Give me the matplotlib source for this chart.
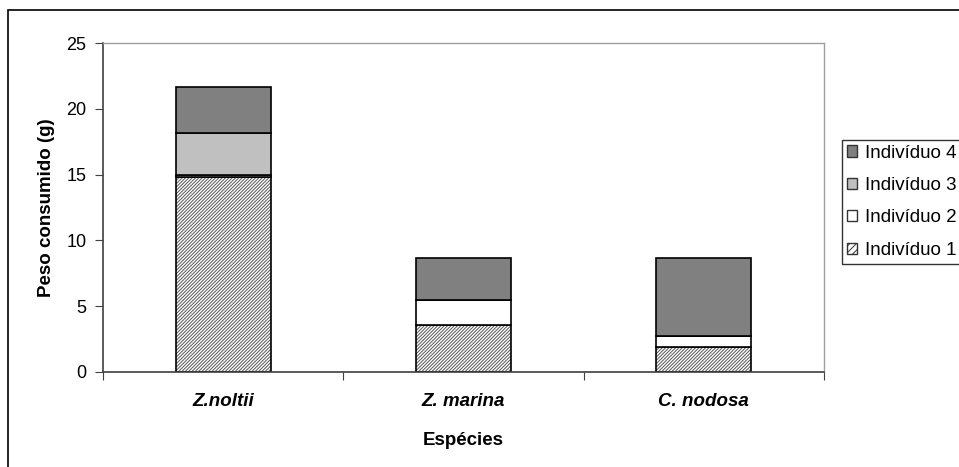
import numpy as np
import matplotlib
matplotlib.use('Agg')
import matplotlib.pyplot as plt
from matplotlib.patches import Rectangle, Patch

plt.rcParams['font.family'] = ['Liberation Sans', 'DejaVu Sans']
plt.rcParams['hatch.linewidth'] = 0.7

# dados
especies = ['Z.noltii', 'Z. marina', 'C. nodosa']
individuo1 = [14.8, 3.57, 1.92]
individuo2 = [0.2, 1.9, 0.79]
individuo3 = [3.15, 0.0, 0.0]
individuo4 = [3.5, 3.19, 5.95]
series_nomes = ['Indivíduo 1', 'Indivíduo 2', 'Indivíduo 3', 'Indivíduo 4']
yticks = [0, 5, 10, 15, 20, 25]

fig = plt.figure(figsize=(9.59, 4.67), dpi=100)
ax = fig.add_axes([103 / 959, 1 - 372 / 467, 721 / 959, 329 / 467])

x = np.arange(len(especies))
w = 0.395
estilos = [
    dict(color='white', hatch='/' * 10),
    dict(color='white'),
    dict(color='#c0c0c0'),
    dict(color='#808080'),
]
base = np.zeros(len(especies))
for vals, nome, st in zip([individuo1, individuo2, individuo3, individuo4], series_nomes, estilos):
    vals = np.array(vals)
    if st.get('hatch'):
        # hachurado cinzento por baixo, contorno preto por cima
        ax.bar(x, vals, w, bottom=base, facecolor='white', edgecolor='#555555',
               linewidth=0, hatch=st['hatch'])
        ax.bar(x, vals, w, bottom=base, facecolor='none', edgecolor='black',
               linewidth=1.2)
    else:
        ax.bar(x, vals, w, bottom=base, facecolor=st['color'], edgecolor='black',
               linewidth=1.2)
    base = base + vals

ax.set_xlim(-0.5, 2.5)
ax.set_ylim(0, 25)
ax.set_yticks(yticks)
ax.set_yticklabels([str(t) for t in yticks], fontsize=13)
ax.set_xticks([-0.5, 0.5, 1.5, 2.5])
ax.set_xticklabels([])
ax.set_xticks(x, minor=True)
ax.set_xticklabels(especies, minor=True, fontsize=13.5, fontweight='bold', style='italic')
ax.tick_params(axis='x', which='minor', length=0, pad=15)
ax.tick_params(axis='x', which='major', length=6, direction='out', color='#404040')
ax.tick_params(axis='y', length=6, direction='out', color='#404040', pad=6)

for s in ['top', 'right']:
    ax.spines[s].set_color('#a0a0a0')
    ax.spines[s].set_linewidth(1.0)
for s in ['left', 'bottom']:
    ax.spines[s].set_color('#404040')
    ax.spines[s].set_linewidth(1.2)

ax.set_ylabel('Peso consumido (g)', fontsize=13.5, fontweight='bold', labelpad=8)
ax.set_xlabel('Espécies', fontsize=13.5, fontweight='bold', labelpad=16)

# legenda
leg_handles = [
    Patch(facecolor='#808080', edgecolor='#333333'),
    Patch(facecolor='#c0c0c0', edgecolor='#333333'),
    Patch(facecolor='white', edgecolor='#333333'),
    Patch(facecolor='white', edgecolor='#333333', hatch='/////'),
]
leg = fig.legend(leg_handles, series_nomes[::-1], loc='upper left',
                 bbox_to_anchor=(842 / 959, 1 - 140 / 467), fontsize=13.5,
                 frameon=True, fancybox=False, edgecolor='black',
                 handlelength=0.55, handleheight=0.55, handletextpad=0.45,
                 labelspacing=0.82, borderpad=0.25, borderaxespad=0)
leg.get_frame().set_linewidth(1.0)

# moldura do gráfico
fig.patches.append(Rectangle((8 / 959, -0.05), 1.1, 1 - 10 / 467 + 0.05,
                             transform=fig.transFigure, fill=False,
                             edgecolor='black', linewidth=1.2))

fig.savefig('out.png', dpi=100)
